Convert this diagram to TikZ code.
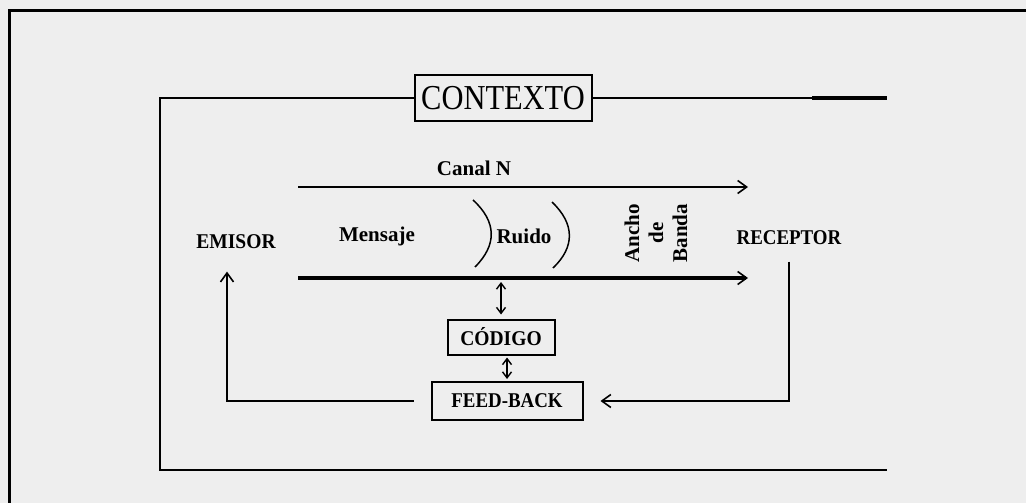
\documentclass[tikz,border=0pt]{standalone}
\usepackage{fontspec}
\setmainfont{Liberation Serif}
\usetikzlibrary{arrows.meta}
\definecolor{fondo}{HTML}{EEEEEE}
\tikzstyle{flecha} = [line width=2pt,-{Straight Barb[length=9pt,width=13pt,line width=1.6pt]}]
\tikzstyle{doble} = [line width=1.4pt,{Straight Barb[length=6pt,width=9pt]}-{Straight Barb[length=6pt,width=9pt]}]
\tikzstyle{etiqueta} = [font=\bfseries\fontsize{21}{24}\selectfont]
\tikzstyle{caja} = [draw, line width=2pt, etiqueta]

\begin{document}
\begin{tikzpicture}[x=1pt,y=-1pt]
            \fill[fondo] (0,0) rectangle (1026,503);
            \useasboundingbox (0,0) rectangle (1026,503);
            \draw[line width=3pt] (9,503) -- (9,11) -- (1026,11);

            % Create the nodes
            \node[draw, line width=2pt, minimum width=177pt, minimum height=45pt, font=\fontsize{35}{38}\selectfont] (contexto) at (503,98) {\scalebox{0.87}[1]{CONTEXTO}};
            \node[etiqueta] (canal) at (474,168) {Canal N};
            \node[etiqueta] (emisor) at (236,242) {\scalebox{0.93}[1]{EMISOR}};
            \node[etiqueta] (mensaje) at (377,236) {Mensaje};
            \node[etiqueta] (ruido) at (524,236) {Ruido};
            \node[etiqueta, rotate=90, align=center] (ancho) at (656,233) {Ancho\\de\\Banda};
            \node[etiqueta] (receptor) at (789,238) {\scalebox{0.9}[1]{RECEPTOR}};
            \node[caja, minimum width=107pt, minimum height=35pt] (codigo) at (501,337) {\scalebox{0.93}[1]{CÓDIGO}};
            \node[caja, minimum width=151pt, minimum height=38pt] (feedback) at (507,401) {\scalebox{0.9}[1]{FEED-BACK}};

            % Channel lines
            \coordinate (arriba1) at (298,187);
            \coordinate (arriba2) at (748,187);
            \coordinate (abajo1) at (298,278);
            \coordinate (abajo2) at (748,278);
            \draw[flecha] (arriba1) -- (arriba2);
            \draw[flecha, line width=3.5pt] (abajo1) -- (abajo2);

            % Noise brackets
            \draw[line width=1.5pt] (473,200) .. controls (497,222) and (497,245) .. (475,267);
            \draw[line width=1.5pt] (552,202) .. controls (575,224) and (575,247) .. (553,268);

            % Context frame
            \draw[line width=2pt] (contexto.west) -- (160,98) -- (160,470) -- (887,470);
            \draw[line width=2pt] (contexto.east) -- (887,98);
            \draw[line width=3.5pt] (812,98) -- (887,98);

            % Draw arrows between the nodes
            \draw[doble] ([yshift=4pt]codigo.north) -- ([yshift=-4pt]codigo.north |- abajo1);
            \draw[doble] ([yshift=2pt]feedback.north) -- ([yshift=-2pt]feedback.north |- codigo.south);
            \draw[flecha, shorten <=13pt, shorten >=17pt] (receptor.south) |- (feedback.east);
            \draw[flecha, shorten <=17pt, shorten >=19pt] (feedback.west) -| ([xshift=-9pt]emisor.south);
        \end{tikzpicture}
\end{document}
